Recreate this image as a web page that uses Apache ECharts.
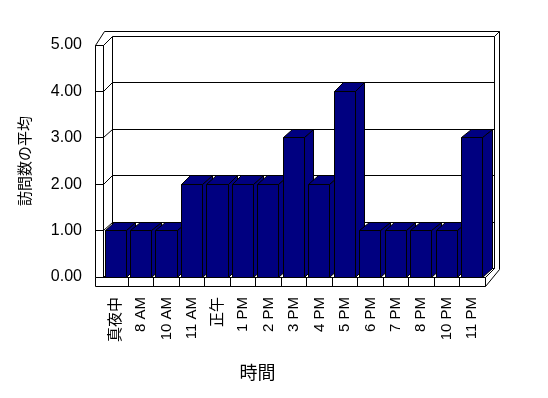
<!DOCTYPE html>
<html><head><meta charset="utf-8">
<script src="https://cdn.jsdelivr.net/npm/echarts@6/dist/echarts.min.js"></script>
<style>html,body{margin:0;padding:0;background:#fff}#c{width:548px;height:398px}</style>
</head><body><div id="c"></div>
<script>
// ---- data ----
const categories = ['真夜中','8 AM','10 AM','11 AM','正午','1 PM','2 PM','3 PM','4 PM','5 PM','6 PM','7 PM','8 PM','10 PM','11 PM'];
const visitAverages = [1,1,1,2,2,2,2,3,2,4,1,1,1,1,3];
const valueTicks = [0,1,2,3,4,5];
const xTitle = '時間';
const yTitle = '訪問数の平均';

// ---- style constants ----
const DX = 9.5, DY = 8.5;        // depth offset to back plane
const WALL = 8;                   // left wall thickness (px)
const FLOOR = 9;                  // floor thickness (px)
const BACK = 5;                   // back wall thickness (px)
const BAR = '#000080';
const FONT = "'Liberation Sans', Arial, 'Noto Sans CJK JP', sans-serif";
const cr = v => Math.floor(v) + 0.5;
const P = pts => pts.map(p => [cr(p[0]), cr(p[1])]);

function decoItem(params, api) {
  const bw = api.size([1, 0])[0];
  const X0 = api.coord([0, 0])[0] - bw / 2;
  const X1 = X0 + bw * categories.length;
  const Yb = api.coord([0, valueTicks[0]])[1];
  const Yt = api.coord([0, valueTicks[valueTicks.length - 1]])[1];
  const els = [];
  const stroke = {stroke: '#000', lineWidth: 1};
  const poly = pts => els.push({type: 'polygon', shape: {points: P(pts)}, style: Object.assign({fill: '#fff'}, stroke)});
  const line = (x1, y1, x2, y2) => els.push({type: 'line', shape: {x1: cr(x1), y1: cr(y1), x2: cr(x2), y2: cr(y2)}, style: stroke});
  const WL = X0 - WALL;
  // back wall face
  poly([[X0 + DX, Yt - DY], [X1 + DX, Yt - DY], [X1 + DX, Yb - DY], [X0 + DX, Yb - DY]]);
  valueTicks.forEach(v => {
    const y = api.coord([0, v])[1];
    if (v > valueTicks[0] && v < valueTicks[valueTicks.length - 1]) line(X0 + DX, y - DY, X1 + DX, y - DY);
  });
  // left wall inner face
  poly([[X0, Yt], [X0 + DX, Yt - DY], [X0 + DX, Yb - DY], [X0, Yb]]);
  valueTicks.forEach(v => {
    const y = api.coord([0, v])[1];
    line(X0, y, X0 + DX, y - DY);
  });
  // top strip (left wall top + back wall top thickness)
  poly([[WL, Yt], [WL + DX, Yt - DY - BACK], [X1 + DX + BACK, Yt - DY - BACK], [X1 + DX, Yt - DY], [X0 + DX, Yt - DY], [X0, Yt]]);
  // right side (back wall thickness + floor side)
  poly([[X1, Yb], [X1, Yb + FLOOR], [X1 + DX + BACK, Yb + FLOOR - DY - BACK - 3], [X1 + DX + BACK, Yt - DY - BACK], [X1 + DX, Yt - DY], [X1 + DX, Yb - DY]]);
  // floor top
  poly([[X0, Yb], [X0 + DX, Yb - DY], [X1 + DX, Yb - DY], [X1, Yb]]);
  // left wall front with ticks
  poly([[WL, Yt], [X0, Yt], [X0, Yb], [WL, Yb]]);
  valueTicks.forEach(v => {
    const y = api.coord([0, v])[1];
    line(WL, y, X0, y);
  });
  // floor front with category dividers
  poly([[WL, Yb], [X1, Yb], [X1, Yb + FLOOR], [WL, Yb + FLOOR]]);
  for (let i = 1; i < categories.length; i++) {
    const x = X0 + i * bw;
    line(x, Yb, x, Yb + FLOOR);
  }
  return {type: 'group', children: els};
}

function barItem(params, api) {
  const i = api.value(0), v = api.value(1);
  const bw = api.size([1, 0])[0];
  const top = api.coord([i, v]);
  const base = api.coord([i, 0]);
  const xl = top[0] - bw / 2 + bw * 0.08;
  const xr = xl + bw * 0.83;
  const yt = top[1], yb = base[1];
  const st = {fill: BAR, stroke: '#000', lineWidth: 1};
  return {type: 'group', children: [
    {type: 'polygon', shape: {points: P([[xr, yb], [xr, yt], [xr + DX, yt - DY], [xr + DX, yb - DY]])}, style: st},
    {type: 'polygon', shape: {points: P([[xl, yt], [xr, yt], [xr + DX, yt - DY], [xl + DX, yt - DY]])}, style: st},
    {type: 'polygon', shape: {points: P([[xl, yt], [xr, yt], [xr, yb], [xl, yb]])}, style: st}
  ]};
}

const chart = echarts.init(document.getElementById('c'), null, {renderer: 'canvas'});
chart.setOption({
  animation: false,
  backgroundColor: '#fff',
  grid: {left: 103, right: 63, top: 45, bottom: 121},
  xAxis: {
    type: 'category', data: categories,
    axisLine: {show: false}, axisTick: {show: false},
    axisLabel: {rotate: 90, margin: 20, color: '#000', fontSize: 15, fontFamily: FONT, interval: 0},
    name: xTitle, nameLocation: 'middle', nameGap: 88,
    nameTextStyle: {color: '#000', fontSize: 18, fontFamily: FONT, padding: [0, 73, 0, 0]}
  },
  yAxis: {
    type: 'value', min: valueTicks[0], max: valueTicks[valueTicks.length - 1], interval: 1,
    axisLine: {show: false}, axisTick: {show: false}, splitLine: {show: false},
    axisLabel: {margin: 21, color: '#000', fontSize: 16, fontFamily: FONT, formatter: v => v.toFixed(2)},
    name: yTitle, nameLocation: 'middle', nameGap: 70,
    nameTextStyle: {color: '#000', fontSize: 15, fontFamily: FONT}
  },
  series: [
    {type: 'custom', z: 1, silent: true, data: [[0, 0]], encode: {x: 0, y: 1}, renderItem: decoItem},
    {type: 'custom', z: 3, data: visitAverages.map((v, i) => [i, v]), encode: {x: 0, y: 1}, renderItem: barItem}
  ]
});
</script></body></html>
